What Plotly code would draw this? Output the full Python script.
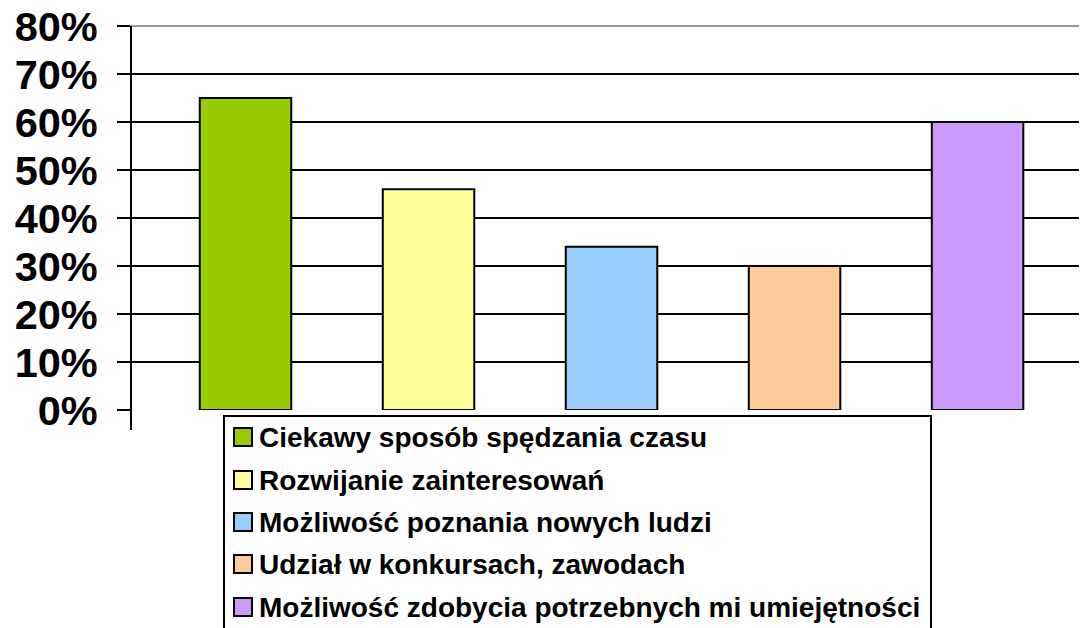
import plotly.graph_objects as go

categories = [
    "Ciekawy sposób spędzania czasu",
    "Rozwijanie zainteresowań",
    "Możliwość poznania nowych ludzi",
    "Udział w konkursach, zawodach",
    "Możliwość zdobycia potrzebnych mi umiejętności",
]
values = [65, 46, 34, 30, 60]
colors = ["#99CC00", "#FFFF99", "#99CCFF", "#FFCC99", "#CC99FF"]
tick_values = [0, 10, 20, 30, 40, 50, 60, 70, 80]
tick_labels = ["0%", "10%", "20%", "30%", "40%", "50%", "60%", "70%", "80%"]

OFF = 8  # page body margin
W, H = 1087 - OFF, 628 - OFF
L, T, B = 131 - OFF, 26 - OFF, 410 - OFF  # plot area pixel edges (figure coords)
R = W
PW, PH = R - L, B - T


def px(x):
    return (x - OFF - L) / PW


def py(y):
    return (B - (y - OFF)) / PH


FONT = "Liberation Sans, Arial, sans-serif"

fig = go.Figure()
for i, (cat, val, col) in enumerate(zip(categories, values, colors)):
    fig.add_trace(go.Bar(
        x=[i], y=[val], name=cat, width=0.5,
        marker=dict(color=col, line=dict(color="black", width=2)),
        showlegend=False,
    ))

shapes = []
annotations = []
# top gridline drawn gray
shapes.append(dict(type="line", xref="paper", yref="paper", x0=0, x1=1, y0=1, y1=1,
                   line=dict(color="#999999", width=2)))
# vertical axis line extending below baseline
shapes.append(dict(type="line", xref="paper", yref="paper", x0=0, x1=0,
                   y0=py(430), y1=py(26), line=dict(color="black", width=2)))
# legend box
shapes.append(dict(type="rect", xref="paper", yref="paper", x0=px(224), x1=px(931),
                   y0=py(650), y1=py(416), line=dict(color="black", width=2),
                   fillcolor="white", layer="above"))
row_y = [437, 480, 522, 564, 607]
for cat, col, ry in zip(categories, colors, row_y):
    shapes.append(dict(type="rect", xref="paper", yref="paper",
                       x0=px(234), x1=px(252), y0=py(ry + 9), y1=py(ry - 9),
                       fillcolor=col, line=dict(color="black", width=2), layer="above"))
    annotations.append(dict(xref="paper", yref="paper", x=px(257), y=py(ry),
                            xanchor="left", yanchor="middle", showarrow=False,
                            text=cat, font=dict(family=FONT, size=28, color="black", weight="bold")))

fig.update_layout(
    width=W, height=H,
    margin=dict(l=L, r=W - R, t=T, b=H - B, pad=0, autoexpand=False),
    paper_bgcolor="white", plot_bgcolor="white",
    shapes=shapes, annotations=annotations,
    bargap=0.5,
    xaxis=dict(range=[-0.6257, 4.598], showticklabels=False, showgrid=False,
               zeroline=False, showline=False, ticks="", automargin=False),
    yaxis=dict(range=[0, 80], tickvals=tick_values, ticktext=tick_labels,
               showgrid=True, gridcolor="black", gridwidth=2, zeroline=False,
               showline=False, ticks="outside", ticklen=13, tickwidth=2, tickcolor="black",
               ticklabelstandoff=11, ticklabeloverflow="allow", automargin=False,
               tickfont=dict(family=FONT, size=41.5, color="black", weight="bold")),
)

fig.write_html("out.html")
